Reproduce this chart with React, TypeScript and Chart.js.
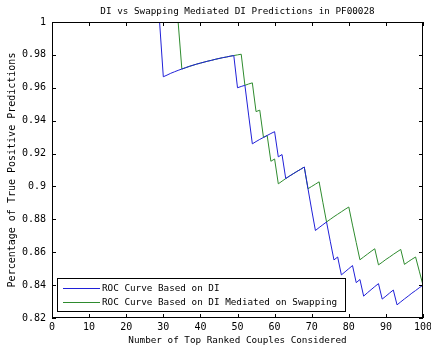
import React, { useEffect, useRef } from "react";
import { Chart, registerables } from "chart.js";

Chart.register(...registerables);

// Number of top ranked couples considered (x values)
const couples = [
  1, 29, 30, 31, 32, 33, 34, 35, 36, 37, 38, 39, 40, 41, 42, 43, 44, 45, 46, 47, 48, 49,
  50, 51, 52, 53, 54, 55, 56, 57, 58, 59, 60, 61, 62, 63, 64, 65, 66, 67, 68, 69, 70,
  71, 72, 73, 74, 75, 76, 77, 78, 79, 80, 81, 82, 83, 84, 85, 86, 87, 88, 89, 90,
  91, 92, 93, 94, 95, 96, 97, 98, 99, 100,
];

// ROC Curve Based on DI
const diRates = [
  1, 1, 0.9667, 0.9677, 0.9688, 0.9697, 0.9706, 0.9714, 0.9722, 0.973, 0.9737, 0.9744, 0.975,
  0.9756, 0.9762, 0.9767, 0.9773, 0.9778, 0.9783, 0.9787, 0.9792, 0.9796,
  0.96, 0.9608, 0.9615, 0.9434, 0.9259, 0.9273, 0.9286, 0.9298, 0.931, 0.9322, 0.9333,
  0.918, 0.9194, 0.9048, 0.9063, 0.9077, 0.9091, 0.9104, 0.9118, 0.8986, 0.8857,
  0.8732, 0.875, 0.8767, 0.8784, 0.8667, 0.8553, 0.8571, 0.8462, 0.8481, 0.85,
  0.8519, 0.8415, 0.8434, 0.8333, 0.8353, 0.8372, 0.8391, 0.8409, 0.8315, 0.8333,
  0.8352, 0.837, 0.828, 0.8298, 0.8316, 0.8333, 0.8351, 0.8367, 0.8384, 0.84,
];

// ROC Curve Based on DI Mediated on Swapping
const swapRates = [
  1, 1, 1, 1, 1, 1, 1, 0.9714, 0.9722, 0.973, 0.9737, 0.9744, 0.975,
  0.9756, 0.9762, 0.9767, 0.9773, 0.9778, 0.9783, 0.9787, 0.9792, 0.9796,
  0.98, 0.9804, 0.9615, 0.9623, 0.963, 0.9455, 0.9464, 0.9298, 0.931, 0.9153, 0.9167,
  0.9016, 0.9032, 0.9048, 0.9063, 0.9077, 0.9091, 0.9104, 0.9118, 0.8986, 0.9,
  0.9014, 0.9028, 0.8904, 0.8784, 0.88, 0.8816, 0.8831, 0.8846, 0.8861, 0.8875,
  0.8765, 0.8659, 0.8554, 0.8571, 0.8588, 0.8605, 0.8621, 0.8523, 0.8539, 0.8556,
  0.8571, 0.8587, 0.8602, 0.8617, 0.8526, 0.8542, 0.8557, 0.8571, 0.8485, 0.84,
];

const xTickValues = [0, 10, 20, 30, 40, 50, 60, 70, 80, 90, 100];
const xTickLabels = ["0", "10", "20", "30", "40", "50", "60", "70", "80", "90", "100"];
const yTickValues = [0.82, 0.84, 0.86, 0.88, 0.9, 0.92, 0.94, 0.96, 0.98, 1];
const yTickLabels = ["0.82", "0.84", "0.86", "0.88", "0.9", "0.92", "0.94", "0.96", "0.98", "1"];

const seriesLabels = ["ROC Curve Based on DI", "ROC Curve Based on DI Mediated on Swapping"];
const seriesColors = ["#2020d8", "#2e8b2e"];

const titleText = "DI vs Swapping Mediated DI Predictions in PF00028";
const xTitle = "Number of Top Ranked Couples Considered";
const yTitle = "Percentage of True Positive Predictions";

const FONT = "'DejaVu Sans Mono', monospace";

const framePlugin = {
  id: "matlabFrame",
  afterDatasetsDraw(chart: any) {
    const { ctx, chartArea: a, scales } = chart;
    ctx.save();
    ctx.strokeStyle = "#000";
    ctx.lineWidth = 1;
    ctx.strokeRect(a.left + 0.5, a.top + 0.5, a.right - a.left - 1, a.bottom - a.top - 1);
    const tl = 4;
    ctx.beginPath();
    xTickValues.forEach((v) => {
      const px = Math.round(scales.x.getPixelForValue(v)) + 0.5;
      ctx.moveTo(px, a.bottom);
      ctx.lineTo(px, a.bottom - tl);
      ctx.moveTo(px, a.top);
      ctx.lineTo(px, a.top + tl);
    });
    yTickValues.forEach((v) => {
      const py = Math.round(scales.y.getPixelForValue(v)) + 0.5;
      ctx.moveTo(a.left, py);
      ctx.lineTo(a.left + tl, py);
      ctx.moveTo(a.right, py);
      ctx.lineTo(a.right - tl, py);
    });
    ctx.stroke();
    ctx.restore();
  },
  afterDraw(chart: any) {
    const { ctx, chartArea: a } = chart;
    const lx = a.left + 5;
    const ly = a.bottom - 40;
    const w = 288;
    const h = 33;
    ctx.save();
    ctx.fillStyle = "#fff";
    ctx.fillRect(lx, ly, w, h);
    ctx.strokeStyle = "#000";
    ctx.lineWidth = 1;
    ctx.strokeRect(lx + 0.5, ly + 0.5, w, h);
    ctx.font = `9.3px ${FONT}`;
    ctx.textBaseline = "middle";
    ctx.textAlign = "left";
    chart.data.datasets.forEach((ds: any, i: number) => {
      const y = ly + 10.5 + i * 14;
      ctx.strokeStyle = ds.borderColor;
      ctx.beginPath();
      ctx.moveTo(lx + 6, y);
      ctx.lineTo(lx + 43, y);
      ctx.stroke();
      ctx.fillStyle = "#000";
      ctx.fillText(ds.label, lx + 45, y + 0.5);
    });
    ctx.restore();
  },
};

export default function App() {
  const canvasRef = useRef<HTMLCanvasElement | null>(null);

  useEffect(() => {
    document.body.style.margin = "0";
    document.body.style.background = "#fff";
    const canvas = canvasRef.current;
    if (!canvas) return;
    const chart = new Chart(canvas, {
      type: "line",
      data: {
        datasets: [
          {
            label: seriesLabels[0],
            data: couples.map((x, i) => ({ x, y: diRates[i] })),
            borderColor: seriesColors[0],
            borderWidth: 1,
            pointRadius: 0,
            tension: 0,
            fill: false,
            clip: 0,
          },
          {
            label: seriesLabels[1],
            data: couples.map((x, i) => ({ x, y: swapRates[i] })),
            borderColor: seriesColors[1],
            borderWidth: 1,
            pointRadius: 0,
            tension: 0,
            fill: false,
            clip: 0,
          },
        ],
      },
      options: {
        responsive: false,
        animation: false,
        devicePixelRatio: 1,
        layout: { padding: { left: 0, right: 8, top: 0, bottom: 0 } },
        plugins: {
          legend: { display: false },
          tooltip: { enabled: false },
          title: {
            display: true,
            text: titleText,
            fullSize: false,
            color: "#000",
            font: { family: FONT, size: 9.3, weight: "normal", lineHeight: 1.2 },
            padding: { top: 6, bottom: 4.84 },
          },
        },
        scales: {
          x: {
            type: "linear",
            min: 0,
            max: 100,
            afterBuildTicks: (s: any) => {
              s.ticks = xTickValues.map((v) => ({ value: v }));
            },
            afterFit: (s: any) => {
              s.height = 28;
              s.paddingLeft = 0;
              s.paddingRight = 0;
            },
            ticks: {
              callback: (_v: any, i: number) => xTickLabels[i],
              color: "#000",
              font: { family: FONT, size: 10 },
              padding: 3,
              maxRotation: 0,
              autoSkip: false,
            },
            grid: { display: false, drawTicks: false },
            border: { display: false },
            title: {
              display: true,
              text: xTitle,
              color: "#000",
              font: { family: FONT, size: 9.3, lineHeight: 1.2 },
              padding: { top: 0, bottom: 0 },
            },
          },
          y: {
            type: "linear",
            min: 0.82,
            max: 1,
            afterBuildTicks: (s: any) => {
              s.ticks = yTickValues.map((v) => ({ value: v }));
            },
            afterFit: (s: any) => {
              s.width = 52;
              s.paddingTop = 0;
              s.paddingBottom = 0;
            },
            ticks: {
              callback: (_v: any, i: number) => yTickLabels[i],
              color: "#000",
              font: { family: FONT, size: 10 },
              padding: 6,
              autoSkip: false,
            },
            grid: { display: false, drawTicks: false },
            border: { display: false },
            title: {
              display: true,
              text: yTitle,
              color: "#000",
              font: { family: FONT, size: 10, lineHeight: 1.2 },
              padding: { top: 6, bottom: 0 },
            },
          },
        },
      },
      plugins: [framePlugin],
    } as any);
    return () => chart.destroy();
  }, []);

  return (
    <div style={{ width: 431, height: 346, background: "#fff" }}>
      <canvas ref={canvasRef} width={431} height={346} style={{ display: "block" }} />
    </div>
  );
}
